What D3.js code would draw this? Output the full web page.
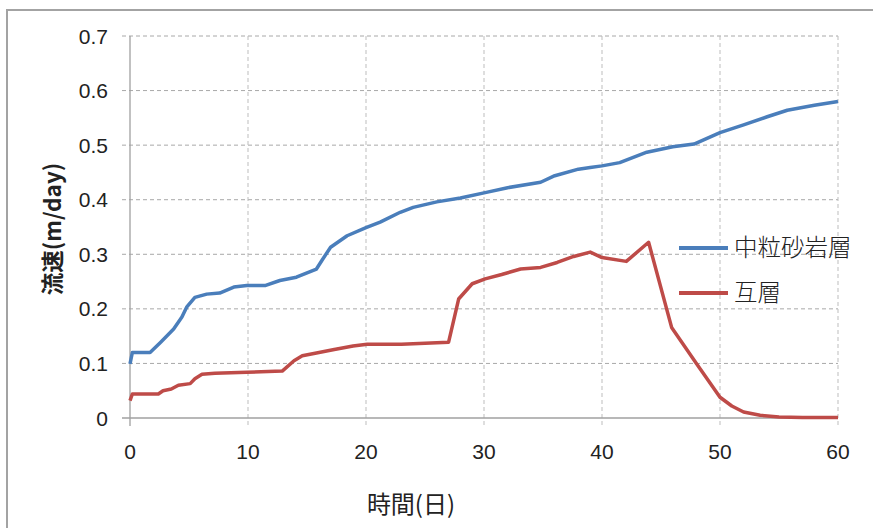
<!DOCTYPE html>
<html>
<head>
<meta charset="utf-8">
<script src="https://cdn.jsdelivr.net/npm/d3@7"></script>
<style>
  html, body { margin: 0; padding: 0; background: #fff; }
  svg { display: block; }
</style>
</head>
<body>
<svg id="chart" width="873" height="528"></svg>
<script>
// Flow velocity over time for two strata
const seriesNames = ["中粒砂岩層", "互層"];
const seriesColors = ["#4A7EBB", "#BE4B48"];

// 中粒砂岩層: days and velocity (m/day)
const sandDays = [0, 0.2, 1.7, 2.6, 3.7, 4.4, 4.8, 5.5, 6.5, 7.6, 8.8, 9.9, 11.5, 12.7, 14.1, 15.8, 16.3, 17.0, 18.4, 20.0, 21.2, 22.9, 24.0, 26, 28, 30.1, 32, 34.8, 36, 38, 39, 40, 41.5, 43.8, 46, 47.8, 50, 52, 54, 55.7, 58, 60];
const sandVel = [0.099, 0.12, 0.12, 0.139, 0.163, 0.185, 0.203, 0.221, 0.227, 0.229, 0.24, 0.243, 0.243, 0.252, 0.258, 0.273, 0.29, 0.313, 0.334, 0.349, 0.359, 0.377, 0.386, 0.396, 0.403, 0.413, 0.422, 0.432, 0.444, 0.456, 0.459, 0.462, 0.468, 0.487, 0.497, 0.502, 0.523, 0.537, 0.552, 0.564, 0.573, 0.58];

// 互層: days and velocity (m/day)
const alterDays = [0, 0.2, 2.4, 2.8, 3.5, 4.1, 5.1, 5.5, 6.1, 7.2, 9.9, 12.9, 13.9, 14.6, 15.8, 17.2, 18.9, 20.1, 23, 25, 27.0, 27.85, 29.0, 30.1, 31.5, 33.1, 34.8, 36.2, 37.6, 39.0, 40.0, 42.06, 43.95, 45.9, 48, 50.0, 51, 52, 53.4, 55, 57, 60];
const alterVel = [0.032, 0.044, 0.044, 0.05, 0.053, 0.06, 0.063, 0.072, 0.08, 0.082, 0.084, 0.086, 0.105, 0.114, 0.119, 0.125, 0.132, 0.135, 0.135, 0.137, 0.139, 0.218, 0.246, 0.255, 0.263, 0.273, 0.276, 0.285, 0.296, 0.304, 0.294, 0.287, 0.322, 0.166, 0.1, 0.038, 0.022, 0.011, 0.005, 0.002, 0.001, 0.001];

const xTicks = [0, 10, 20, 30, 40, 50, 60];
const yTicks = [0, 0.1, 0.2, 0.3, 0.4, 0.5, 0.6, 0.7];
const xTitle = "時間(日)";
const yTitle = "流速(m/day)";

const svg = d3.select("#chart");
const latinFont = "'Liberation Sans', Arial, sans-serif";
const cjkFont = "'Noto Sans CJK JP', 'Noto Sans CJK SC', sans-serif";

const x = d3.scaleLinear().domain([0, 60]).range([130, 838]);
const y = d3.scaleLinear().domain([0, 0.7]).range([418, 36]);

// outer frame (top and left edges)
svg.append("path")
  .attr("d", "M7,528 L7,10 L873,10")
  .attr("fill", "none")
  .attr("stroke", "#a3a3a3")
  .attr("stroke-width", 2);

// dashed gridlines
const grid = svg.append("g");
grid.selectAll("line.h")
  .data(yTicks.filter(d => d > 0))
  .join("line")
  .attr("x1", x(0) - 8).attr("x2", x(60))
  .attr("y1", d => y(d)).attr("y2", d => y(d))
  .attr("stroke", "#a8a8a8").attr("stroke-width", 1)
  .attr("stroke-dasharray", "4,3");
grid.selectAll("line.v")
  .data(xTicks.filter(d => d > 0))
  .join("line")
  .attr("x1", d => x(d)).attr("x2", d => x(d))
  .attr("y1", y(0.7)).attr("y2", y(0) + 8)
  .attr("stroke", "#bdbdbd").attr("stroke-width", 1)
  .attr("stroke-dasharray", "4,3");

// axes lines
svg.append("line")
  .attr("x1", x(0)).attr("x2", x(0))
  .attr("y1", y(0.7)).attr("y2", y(0) + 8)
  .attr("stroke", "#a0a0a0").attr("stroke-width", 1.3);
svg.append("line")
  .attr("x1", x(0) - 8).attr("x2", x(60))
  .attr("y1", y(0)).attr("y2", y(0))
  .attr("stroke", "#a0a0a0").attr("stroke-width", 1.3);

// tick labels
svg.append("g").selectAll("text")
  .data(yTicks)
  .join("text")
  .attr("x", 108)
  .attr("y", d => y(d))
  .attr("dy", "0.36em")
  .attr("text-anchor", "end")
  .attr("font-family", latinFont)
  .attr("font-size", 21)
  .attr("fill", "#222")
  .text(d => d3.format("")(d));
svg.append("g").selectAll("text")
  .data(xTicks)
  .join("text")
  .attr("x", d => x(d))
  .attr("y", 451)
  .attr("dy", "0.36em")
  .attr("text-anchor", "middle")
  .attr("font-family", latinFont)
  .attr("font-size", 21)
  .attr("fill", "#222")
  .text(d => d);

// axis titles
svg.append("text")
  .attr("x", 411).attr("y", 504)
  .attr("dy", "0.36em")
  .attr("text-anchor", "middle")
  .attr("font-family", cjkFont)
  .attr("font-size", 24)
  .attr("fill", "#222")
  .text(xTitle);
svg.append("text")
  .attr("transform", "translate(53,229) rotate(-90)")
  .attr("dy", "0.36em")
  .attr("text-anchor", "middle")
  .attr("font-family", cjkFont)
  .attr("font-weight", "bold")
  .attr("font-size", 22.5)
  .attr("fill", "#222")
  .text(yTitle);

// series lines
const series = [
  { days: sandDays, vel: sandVel },
  { days: alterDays, vel: alterVel }
];
const line = d3.line().x(d => x(d[0])).y(d => y(d[1]));
series.forEach((s, i) => {
  svg.append("path")
    .datum(d3.zip(s.days, s.vel))
    .attr("fill", "none")
    .attr("stroke", seriesColors[i])
    .attr("stroke-width", 3.5)
    .attr("stroke-linejoin", "round")
    .attr("d", line);
});

// legend
const legend = svg.append("g");
seriesNames.forEach((name, i) => {
  const ly = 248 + i * 45;
  legend.append("line")
    .attr("x1", 679).attr("x2", 728)
    .attr("y1", ly).attr("y2", ly)
    .attr("stroke", seriesColors[i])
    .attr("stroke-width", 4);
  legend.append("text")
    .attr("x", 734).attr("y", ly)
    .attr("dy", "0.36em")
    .attr("font-family", cjkFont)
    .attr("font-weight", 300)
    .attr("font-size", 23.5)
    .attr("fill", "#222")
    .text(name);
});
</script>
</body>
</html>
